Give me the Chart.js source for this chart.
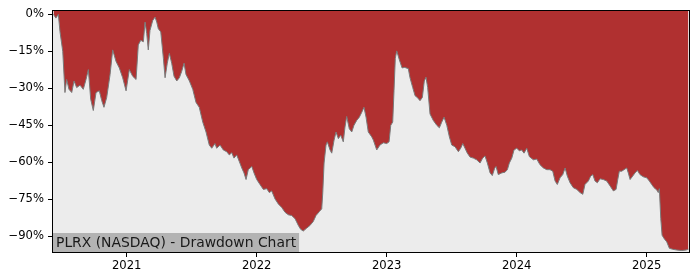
<!DOCTYPE html>
<html>
<head>
<meta charset="utf-8">
<script src="https://cdn.jsdelivr.net/npm/chart.js@4/dist/chart.umd.min.js"></script>
<style>
  html, body { margin: 0; padding: 0; background: #ffffff; }
  #wrap { width: 700px; height: 280px; }
</style>
</head>
<body>
<div id="wrap"><canvas id="c" width="700" height="280"></canvas></div>
<script>
// Decimal-year dates of each observation
const dates = [
  2020.437, 2020.455, 2020.474, 2020.487, 2020.508, 2020.525, 2020.538, 2020.556, 2020.577, 2020.595,
  2020.615, 2020.641, 2020.666, 2020.687, 2020.705, 2020.723, 2020.743, 2020.764, 2020.789, 2020.808,
  2020.825, 2020.846, 2020.872, 2020.892, 2020.918, 2020.943, 2020.969, 2020.995, 2021.020, 2021.046,
  2021.072, 2021.089, 2021.108, 2021.128, 2021.141, 2021.154, 2021.166, 2021.179, 2021.200, 2021.218,
  2021.231, 2021.243, 2021.262, 2021.282, 2021.295, 2021.312, 2021.328, 2021.346, 2021.364, 2021.385,
  2021.405, 2021.423, 2021.441, 2021.456, 2021.482, 2021.508, 2021.533, 2021.558, 2021.585, 2021.610,
  2021.635, 2021.654, 2021.679, 2021.692, 2021.718, 2021.743, 2021.769, 2021.789, 2021.808, 2021.825,
  2021.846, 2021.866, 2021.885, 2021.902, 2021.918, 2021.935, 2021.962, 2021.979, 2022.000, 2022.025,
  2022.051, 2022.077, 2022.097, 2022.115, 2022.141, 2022.166, 2022.192, 2022.218, 2022.243, 2022.269,
  2022.295, 2022.320, 2022.338, 2022.358, 2022.385, 2022.410, 2022.435, 2022.456, 2022.482, 2022.500,
  2022.508, 2022.518, 2022.533, 2022.543, 2022.564, 2022.577, 2022.595, 2022.610, 2022.628, 2022.646,
  2022.666, 2022.679, 2022.692, 2022.712, 2022.731, 2022.748, 2022.769, 2022.789, 2022.808, 2022.825,
  2022.841, 2022.858, 2022.885, 2022.897, 2022.923, 2022.948, 2022.974, 2023.000, 2023.018, 2023.031,
  2023.046, 2023.056, 2023.066, 2023.077, 2023.097, 2023.118, 2023.138, 2023.166, 2023.179, 2023.200,
  2023.218, 2023.235, 2023.256, 2023.274, 2023.289, 2023.302, 2023.315, 2023.333, 2023.358, 2023.385,
  2023.405, 2023.423, 2023.441, 2023.462, 2023.482, 2023.500, 2023.525, 2023.551, 2023.569, 2023.585,
  2023.602, 2023.620, 2023.641, 2023.666, 2023.692, 2023.718, 2023.738, 2023.756, 2023.774, 2023.795,
  2023.812, 2023.831, 2023.841, 2023.858, 2023.885, 2023.910, 2023.928, 2023.943, 2023.962, 2023.979,
  2024.000, 2024.020, 2024.038, 2024.056, 2024.077, 2024.097, 2024.128, 2024.154, 2024.179, 2024.205,
  2024.231, 2024.256, 2024.277, 2024.295, 2024.312, 2024.333, 2024.354, 2024.372, 2024.389, 2024.410,
  2024.435, 2024.462, 2024.487, 2024.508, 2024.525, 2024.551, 2024.569, 2024.585, 2024.602, 2024.620,
  2024.641, 2024.666, 2024.692, 2024.718, 2024.743, 2024.764, 2024.777, 2024.789, 2024.808, 2024.825,
  2024.846, 2024.858, 2024.872, 2024.892, 2024.910, 2024.928, 2024.948, 2024.974, 2025.000, 2025.020,
  2025.038, 2025.056, 2025.077, 2025.089, 2025.097, 2025.108, 2025.118, 2025.133, 2025.154, 2025.174,
  2025.200, 2025.231, 2025.269, 2025.302, 2025.320
];

// Drawdown from running peak, in percent
const drawdown = [
  0, -1.5, 0, -7.1, -15, -31.7, -26.4, -30.4, -31.7, -27,
  -29.7, -28.7, -30.4, -26.4, -22.4, -34.4, -39, -31.7, -31, -35,
  -37.7, -33.7, -24.4, -14.4, -19.1, -21.7, -25.7, -31, -22.4, -25.1,
  -26.4, -12.4, -10.5, -11.1, -3.1, -7.8, -14.4, -6.5, -2.5, -1.1,
  -3.1, -5.8, -7.1, -17.8, -25.7, -19.8, -15.8, -19.8, -25.1, -27,
  -25.7, -23.1, -19.8, -24.4, -27, -30.4, -35.7, -37.7, -43.7, -47.7,
  -53, -54.3, -52.4, -54.3, -53, -55, -55.7, -57, -56.1, -58.3,
  -57, -59.7, -62.3, -64.3, -67, -63, -61.7, -64.3, -67, -69,
  -71, -70.7, -72.3, -71.6, -74.9, -76.9, -78.3, -80.3, -81.3, -81.6,
  -82.9, -85.6, -87.2, -87.9, -86.7, -85.6, -84, -81.6, -80, -78.9,
  -72.3, -60.3, -53, -51.7, -55, -56.3, -51, -47.7, -50.4, -49,
  -51.7, -45.7, -41.4, -46.4, -47.7, -45, -43, -41.7, -39.7, -37.7,
  -41.7, -47.7, -49.7, -51, -55, -53, -52.1, -52.4, -51.7, -45,
  -43.7, -31, -17.8, -14.8, -18.4, -21.7, -21.5, -22, -25.7, -29.7,
  -33, -33.7, -35, -33.7, -27, -25.5, -29.7, -40.4, -43, -45,
  -46, -43.7, -41.7, -45, -49.7, -53, -53.7, -55.7, -54.3, -52.4,
  -54.3, -56.3, -57.9, -58.3, -59, -60.3, -58.3, -57.4, -60.3, -64.3,
  -65.4, -62.3, -61.7, -65, -64.3, -64, -63, -60.3, -58.3, -55,
  -54.3, -55.3, -55, -56.3, -54.3, -57.7, -59, -58.7, -61, -62.3,
  -63, -63, -63.6, -67.6, -69, -66.3, -65, -62.3, -65.6, -68.3,
  -70.3, -71, -72.3, -73, -69, -67.6, -65.6, -65, -67.6, -68.3,
  -66.7, -67, -67.6, -69.6, -71.6, -71, -67, -63.6, -63.6, -63,
  -62.3, -64.3, -67, -65.6, -64.3, -63.3, -65, -65.9, -66.3, -67.6,
  -69, -70.3, -71.2, -72.3, -70.7, -82.9, -89.6, -90.9, -92.3, -94.9,
  -95.3, -95.6, -95.8, -95.6, -95.3
];

const xTicks = [2021, 2022, 2023, 2024, 2025];
const yTicks = [0, -15, -30, -45, -60, -75, -90];
const chartLabel = 'PLRX (NASDAQ) - Drawdown Chart';

const points = dates.map((d, i) => ({ x: d, y: drawdown[i] }));

const frameAndLabel = {
  id: 'frameAndLabel',
  beforeDatasetsDraw(chart) {
    const { ctx, chartArea: a } = chart;
    ctx.save();
    ctx.fillStyle = '#ececec';
    ctx.fillRect(a.left, a.top, a.right - a.left, a.bottom - a.top);
    ctx.restore();
  },
  afterDraw(chart) {
    const { ctx, chartArea: a } = chart;
    ctx.save();
    // label box
    ctx.font = '13.9px "DejaVu Sans"';
    const w = ctx.measureText(chartLabel).width;
    ctx.fillStyle = '#b3b3b3';
    ctx.fillRect(a.left, a.bottom - 19, w + 6, 19);
    ctx.fillStyle = '#1a1a1a';
    ctx.textBaseline = 'alphabetic';
    ctx.fillText(chartLabel, a.left + 3, a.bottom - 5);
    // frame
    ctx.strokeStyle = '#000000';
    ctx.lineWidth = 1;
    ctx.strokeRect(Math.round(a.left) - 0.5, Math.round(a.top) - 0.5,
                   Math.round(a.right - a.left) + 1, Math.round(a.bottom - a.top) + 1);
    ctx.restore();
  }
};

new Chart(document.getElementById('c'), {
  type: 'line',
  data: {
    datasets: [{
      data: points,
      borderColor: '#7a7a7a',
      borderWidth: 1,
      backgroundColor: '#b03030',
      fill: 'end',
      pointRadius: 0,
      tension: 0
    }]
  },
  options: {
    responsive: false,
    animation: false,
    events: [],
    layout: { padding: { left: 0, right: 11, top: 7, bottom: 0 } },
    plugins: { legend: { display: false }, tooltip: { enabled: false } },
    scales: {
      x: {
        type: 'linear',
        min: 2020.433,
        max: 2025.325,
        afterBuildTicks(scale) { scale.ticks = xTicks.map(v => ({ value: v })); },
        afterFit(scale) { scale.height = 28; },
        grid: { display: true, drawOnChartArea: false, drawTicks: true, tickLength: 5, color: '#000000' },
        border: { display: false },
        ticks: {
          autoSkip: false, maxRotation: 0, minRotation: 0, padding: 2,
          color: '#000000',
          font: { family: 'DejaVu Sans', size: 11.6 },
          callback: v => String(v)
        }
      },
      y: {
        type: 'linear',
        min: -96.4,
        max: 1.4,
        afterBuildTicks(scale) { scale.ticks = yTicks.map(v => ({ value: v })); },
        afterFit(scale) { scale.width = 53; },
        grid: { display: true, drawOnChartArea: false, drawTicks: true, tickLength: 5, color: '#000000' },
        border: { display: false },
        ticks: {
          autoSkip: false, padding: 4,
          color: '#000000',
          font: { family: 'DejaVu Sans', size: 11.6 },
          callback: v => (v < 0 ? '\u2212' : '') + Math.abs(v) + '%'
        }
      }
    }
  },
  plugins: [frameAndLabel]
});
</script>
</body>
</html>
